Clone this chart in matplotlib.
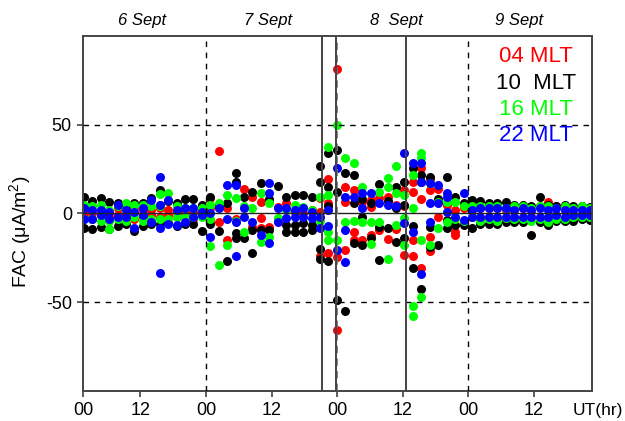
import matplotlib
matplotlib.use("Agg")
import matplotlib.pyplot as plt

plt.rcParams['font.family'] = ['Liberation Sans', 'DejaVu Sans']
plt.rcParams['mathtext.fontset'] = 'custom'
plt.rcParams['mathtext.rm'] = 'Liberation Sans'
plt.rcParams['mathtext.it'] = 'Liberation Sans:italic'

# UT hours counted from 6 Sept 00 UT, one column per orbit pass
ut = [1.7, 3.2, 4.8, 6.3, 7.9, 9.4, 10.9, 12.5, 14.0, 15.6,
      17.1, 18.7, 20.2, 21.7, 23.3, 24.8, 26.4, 27.9, 29.5, 31.0,
      32.5, 34.1, 35.6, 37.2, 38.7, 40.3, 41.8, 43.3, 44.9, 46.4,
      48.0, 49.5, 51.1, 52.6, 54.1, 55.7, 57.2, 58.8, 60.3, 61.9,
      63.4, 65.0, 66.5, 68.0, 69.6, 71.1, 72.7, 74.2, 75.7, 77.3,
      78.8, 80.4, 81.9, 83.5, 85.0, 86.5, 88.1, 89.6, 91.2, 92.7, 94.3]

# FAC values (uA/m2) per pass
fac_04 = [[1, -2], [0, -3], [2, -1], [0, -2], [3, -1], [3, -1, -5], [3, 0, -3], [2, -2], [2, -1], [3, -2],
          [2, -1], [1, -2], [1, -2], [1, -3], [2, -1], [8.5, 3, -4], [35, -4.6], [3, -15], [-3], [14],
          [9.4, -7.4], [6.6, -2.7, -8.3], [6.6, -7.4], [3.8], [5.7], [1], [0], [2], [8.5, 1, -24], [19.7, 5.7, -22.4],
          [81.5, -24.3, -65.5], [15, 6.6, -20.5], [13, -10.2, -14.9], [6.6, -14.9], [7.6, 3.8, -12.1],
          [9, -9.3], [9.5, -14.5], [4.8, -9], [13, 4, -23.3], [17.9, 12.3, -14.9, -23.8],
          [25.4, 8, -30.8], [19.7, 13.2, -13, -21.4], [13.6, -1.8], [5], [2, -10.2, -12.1], [3, -4], [5.7, -2], [3, -3], [3, -2], [3, -3],
          [2, -3], [3, -2], [3, -3], [2, -2], [4, -3], [6.6, -5], [4, -3], [4, -2], [3, -2], [3, -2], [2, -2]]

fac_10 = [[9.5, -8], [7, -8.5], [8.5, -7.5], [6.5, -8.5], [6, -7], [5, -6], [6, -10], [6, -7], [8.5, -6], [13, 5, -6],
          [7, -5.5], [6, -7], [8, -6], [8, -6], [5, -10], [9.4, -6], [5, -9.8], [6, -27], [23, 18, -11, -14], [9.4, -14],
          [12.3, -9.3, -22], [17, -9.3], [8, -9.3], [15.4, -3], [9.4, -6.5, -10.2], [10.4, -6.5, -10.2],
          [10.4, -5.5, -10.2], [9.4, -6.5, -9.3], [26.7, 18, -20, -25.8], [33.8, 15, 4, -27],
          [35.7, 12, -48.6], [22.6, -55], [21.6, 6, -16.8], [8, -1.8, -17.7], [6, -14],
          [16.6, -7.4, -26], [7, -8], [15, 3, -15.8], [17.9, 5, -14], [25.4, -7, -30.8],
          [21.6, 18, -42.6], [20.7, -7.8, -18.6], [8, -18], [20.7, -3.7, -8.4], [9.4, -6.5], [5.7, -6.5], [7.5, -8.4], [7, -6], [6, -6], [6, -6],
          [6.6, -5], [5, -5], [5, -5], [4, -12.1], [9.4, -5], [5, -6.5], [4, -4], [4.7, -4], [4, -4], [4, -3], [3.5, -3.5]]

fac_16 = [[5, -3], [4, -3], [5, -4], [2, -4, -9], [4, -3], [6, -4], [5, -2], [5, -4], [4, -3], [11, 4, -3],
          [11.3, -3], [4, -2], [3, -2], [3, -2], [3, -2], [5, -3, -18.5], [5.7, -29], [10.4, -17.7], [8.5, -4], [4.4, -10.2],
          [3], [11.3, -15.8], [6, -13], [-2.7], [2], [4.8], [3.8], [2], [9.5, -4], [37.2, 10.4, -10.2, -14.9],
          [49.7, -14.9], [31, -4.6], [28.6, -4], [15.1, -4.6], [-4.6, -17], [12, -5], [20.1, 15.1, -25.8], [26.6, 11.3, -6.5],
          [10.4, -2.8, -17.7], [21.6, 3, -52.3, -58],
          [33.8, 31, -14.9, -47.1], [17, -17.7], [6.7, -8], [6.6, -5], [6.6, -3], [4, -4], [4, -2], [4, -4], [4, -3], [4, -4],
          [3, -2.7], [4, -3], [4, -3], [3, -4], [4, -3], [4, -4.6], [3, -3], [4, -3], [3, -2], [4, -2], [3, -2]]

fac_22 = [[3, -3], [2, -3], [2, -1], [1, -3], [5, -2], [2, -2], [1, -8], [3, -1], [7.5, -5], [20.7, 5, -8, -33.6],
          [7.5, -6], [2, -6.5], [3, -5], [3, -2], [1, -1], [0, -13], [2.9], [16, -3], [16, -4.6, -24], [2.9, -2.2],
          [-4.6], [-12.1], [17.3, 11.3, -16.8], [2.9, -4.6], [2.9, -2.7], [2, -2.2], [2.9, -2.2], [1, -2.7], [-1.8, -8], [2, -7],
          [25.4, -20.5], [9.5, -9.3, -27.1], [9.5], [11.3, 3], [11.3], [5.7], [5], [4], [34.2, -5.2], [28.2, -10.2],
          [28.2, 18, -34], [17, 5.7, -5], [16, 5.7], [11.3, 9.5, 1], [-1.8], [11.3, -3.7], [2, -2], [3, -2], [3, -2], [3, -2],
          [3, -2], [2, -2], [3, -2], [2, -2], [3, -2], [2, -2], [3, -1], [2, -2], [2, -1], [2, -1], [2, -1]]

mlt_labels = ['04 MLT', '10  MLT', '16 MLT', '22 MLT']
mlt_colors = ['#ff0000', '#000000', '#00ff00', '#0000ff']
day_labels = ['6 Sept', '7 Sept', '8  Sept', '9 Sept']
day_pos = [12.3, 35.3, 58.8, 81.3]
tick_pos = [1.5, 12, 24, 36, 48, 60, 72, 84]
tick_labels = ['00', '12', '00', '12', '00', '12', '00', '12']
solid_lines = [45.2, 47.7, 60.6]


def main():
    fig = plt.figure(figsize=(6.25, 4.21), dpi=100)
    ax = fig.add_axes([0.1328, 0.0713, 0.8144, 0.8432])

    for series, col in zip([fac_04, fac_10, fac_16, fac_22], mlt_colors):
        xs, ys = [], []
        for t, vals in zip(ut, series):
            for v in vals:
                xs.append(t)
                ys.append(v)
        ax.scatter(xs, ys, s=42, color=col, linewidths=0, zorder=2)

    # reference lines
    ax.axhline(0, color='#222222', lw=1.0, zorder=3)
    for yv in (50, -50):
        ax.axhline(yv, color='black', lw=1.0, ls=(0, (4, 4)), zorder=3)
    ax.axvline(24, color='black', lw=1.0, ls=(0, (4, 4)), zorder=3)
    ax.axvline(72, color='black', lw=1.0, ls=(0, (4, 4)), zorder=3)
    ax.axvline(48, color='#777777', lw=1.3, ls=(0, (4, 3)), zorder=3)
    for xv in solid_lines:
        ax.axvline(xv, color='#444444', lw=1.4, zorder=3)

    ax.set_xlim(1.5, 94.6)
    ax.set_ylim(-100, 100)
    ax.set_xticks(tick_pos)
    ax.set_xticklabels(tick_labels)
    ax.set_yticks([-50, 0, 50])
    ax.set_yticklabels(['-50', '0', '50'])
    ax.tick_params(axis='both', direction='out', length=4, width=1.2,
                   color='#444444', labelsize=13, pad=4)
    for sp in ax.spines.values():
        sp.set_color('#444444')
        sp.set_linewidth(1.4)

    fig.text(598 / 625, 1 - 410 / 421, 'UT(hr)', ha='center', va='center', fontsize=12.5)
    fig.text(20 / 625, 1 - 232 / 421, 'FAC (\u03bcA/m$^2$)', rotation=90,
             ha='center', va='center', fontsize=14)

    for d, lab in zip(day_pos, day_labels):
        ax.text(d, 1.044, lab, transform=ax.get_xaxis_transform(), ha='center',
                va='center', fontsize=12, style='italic')

    for i, (lab, col) in enumerate(zip(mlt_labels, mlt_colors)):
        fig.text(536 / 625, 1 - (57 + 26.3 * i) / 421, lab, color=col,
                 ha='center', va='center', fontsize=16)

    fig.savefig('out.png', dpi=100)


if __name__ == "__main__":
    main()
